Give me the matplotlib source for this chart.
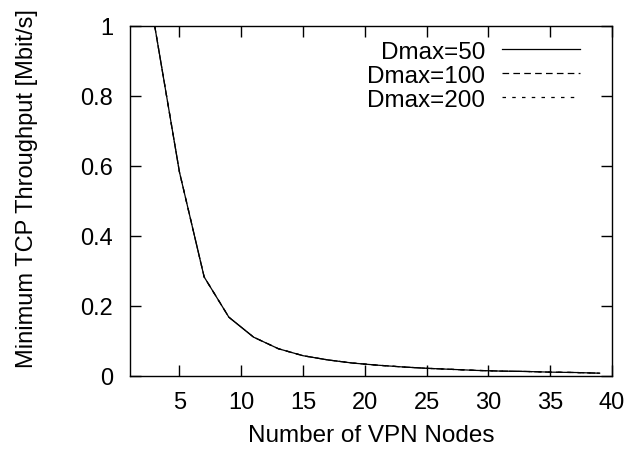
import matplotlib
matplotlib.use("Agg")
import matplotlib.pyplot as plt

nodes = [3, 5, 7, 9, 11, 13, 15, 17, 19, 21, 23, 25, 27, 29, 31, 33, 35, 37, 39]
thr_50 = [1.0, 0.583, 0.283, 0.168, 0.111, 0.078, 0.058, 0.046, 0.037, 0.031,
          0.026, 0.022, 0.019, 0.016, 0.014, 0.013, 0.011, 0.010, 0.008]
thr_100 = list(thr_50)
thr_200 = list(thr_50)
labels = ["Dmax=50", "Dmax=100", "Dmax=200"]
xticks = [5, 10, 15, 20, 25, 30, 35, 40]
yticks = [0, 0.2, 0.4, 0.6, 0.8, 1]

plt.rcParams['font.family'] = ['Liberation Sans', 'DejaVu Sans']
fig = plt.figure(figsize=(6.42, 4.56), dpi=100)
ax = fig.add_axes([130/642, 79/456, 482/642, 350/456])

ax.plot(nodes, thr_50, color='black', lw=0.9, ls='-', label=labels[0])
ax.plot(nodes, thr_100, color='black', lw=0.9, ls=(0, (5.3, 3.4)), label=labels[1])
ax.plot(nodes, thr_200, color='black', lw=0.9, ls=(0, (2.8, 5.0)), label=labels[2])

ax.set_xlim(1, 40)
ax.set_ylim(0, 1)
ax.set_xticks(xticks)
ax.set_yticks(yticks)
ax.set_yticklabels(["0", "0.2", "0.4", "0.6", "0.8", "1"])
ax.tick_params(direction='in', length=8, width=1, top=True, right=True,
               labelsize=17)
ax.tick_params(axis='x', pad=11)
ax.tick_params(axis='y', pad=12)
for s in ax.spines.values():
    s.set_linewidth(1)
ax.set_xlabel("Number of VPN Nodes", fontsize=17.5, labelpad=8)
ax.set_ylabel("Minimum TCP Throughput [Mbit/s]", fontsize=17)
ax.yaxis.set_label_coords(-0.19, 0.537)

leg = ax.legend(loc='upper right', frameon=False, markerfirst=False, fontsize=17.5,
                handlelength=3.2, handletextpad=0.7, labelspacing=0.08,
                borderpad=0, borderaxespad=0, bbox_to_anchor=(450/482, 0.958))
for t in leg.get_texts():
    t.set_ha('right')

fig.savefig("out.png", dpi=100)
